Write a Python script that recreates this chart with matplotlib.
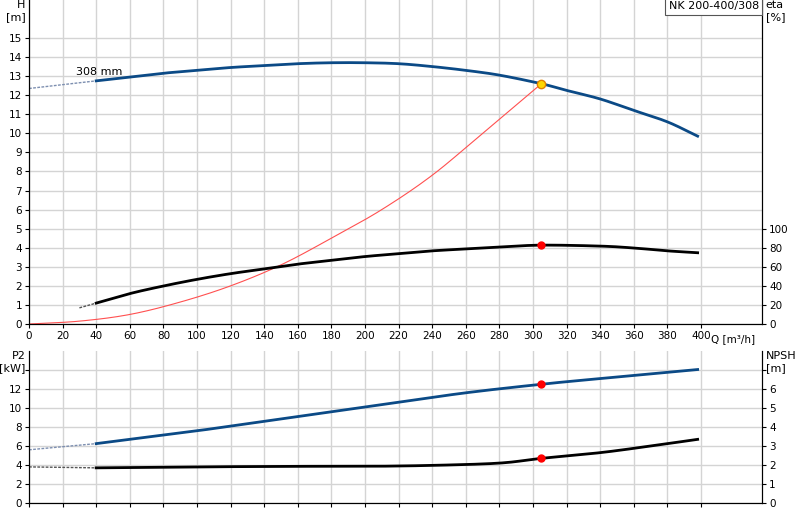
import matplotlib
matplotlib.use("Agg")
import matplotlib.pyplot as plt
import numpy as np

plt.rcParams['font.family'] = ['DejaVu Sans']
plt.rcParams['font.size'] = 7.5

# Head curve (m)
q_h = [40, 60, 80, 100, 120, 140, 160, 180, 200, 220, 240, 260, 280, 305, 320, 340, 360, 380, 398]
h = [12.75, 12.95, 13.15, 13.3, 13.45, 13.55, 13.65, 13.7, 13.7, 13.65, 13.5, 13.3, 13.05, 12.6, 12.25, 11.8, 11.2, 10.6, 9.85]
q_h_ext = [0, 40]
h_ext = [12.35, 12.75]
# Efficiency (%)
q_eta = [40, 60, 80, 100, 120, 140, 160, 180, 200, 220, 240, 260, 280, 305, 340, 360, 380, 398]
eta = [22, 32, 40, 47, 53, 58, 63, 67, 71, 74, 77, 79, 81, 83, 82, 80, 77, 75]
q_eta_ext = [30, 40]
eta_ext = [17, 22]
# System curve (m)
q_sys = [0, 30, 60, 90, 120, 150, 180, 210, 240, 270, 305]
h_sys = [0, 0.15, 0.5, 1.15, 2.0, 3.1, 4.5, 6.0, 7.8, 10.0, 12.6]
# Power P2 (kW)
q_p = [40, 60, 100, 140, 180, 220, 260, 305, 340, 398]
p2 = [6.25, 6.7, 7.6, 8.6, 9.6, 10.6, 11.6, 12.5, 13.1, 14.05]
q_p_ext = [0, 40]
p2_ext = [5.6, 6.25]
# NPSH (m)
q_n = [40, 100, 160, 200, 240, 280, 305, 340, 370, 398]
npsh = [1.85, 1.9, 1.93, 1.93, 1.98, 2.1, 2.35, 2.65, 3.0, 3.35]
q_n_ext = [0, 40]
npsh_ext = [1.9, 1.85]
q_op = 305

BLUE = '#0b4a86'
GRID = '#d4d4d4'

def smooth(x, y, n=200):
    x = np.asarray(x, float); y = np.asarray(y, float)
    xs = np.linspace(x[0], x[-1], n)
    # monotone-ish cubic via piecewise interpolation of a polyfit-free approach
    from numpy import interp
    # Catmull-Rom
    pts = []
    for i in range(len(x) - 1):
        x0 = x[i-1] if i > 0 else 2*x[0]-x[1]; y0 = y[i-1] if i > 0 else 2*y[0]-y[1]
        x3 = x[i+2] if i+2 < len(x) else 2*x[-1]-x[-2]; y3 = y[i+2] if i+2 < len(y) else 2*y[-1]-y[-2]
        t = np.linspace(0, 1, 20, endpoint=(i == len(x)-2))
        for (a, b0, b1, b2, b3) in [(0, x0, x[i], x[i+1], x3), (1, y0, y[i], y[i+1], y3)]:
            v = 0.5*((2*b1) + (-b0+b2)*t + (2*b0-5*b1+4*b2-b3)*t**2 + (-b0+3*b1-3*b2+b3)*t**3)
            if a == 0: xv = v
            else: yv = v
        pts.append((xv, yv))
    return np.concatenate([p[0] for p in pts]), np.concatenate([p[1] for p in pts])

fig = plt.figure(figsize=(8, 5.2), dpi=100)
ax = fig.add_axes([29/800, 1-324/520, 733/800, 324/520])
ax2 = ax.twinx()
axb = fig.add_axes([29/800, 1-503/520, 733/800, 152/520])
axb2 = axb.twinx()

xmax = 733/1.68
for a in (ax, axb):
    a.set_xlim(0, xmax)
    a.set_xticks(np.arange(0, 401, 20))
    a.grid(True, color=GRID, lw=1)
    a.set_axisbelow(True)
    a.spines['top'].set_visible(False)
    a.tick_params(length=3, pad=2)

ax.set_ylim(0, 324/19.07)
ax.set_yticks(np.arange(0, 16, 1))
ax.set_xticklabels([str(v) for v in range(0, 401, 20)])
ax2.set_ylim(0, 324/0.95)
ax2.set_yticks([0, 20, 40, 60, 80, 100])
ax2.spines['top'].set_visible(False)
ax2.tick_params(length=3, pad=2)

axb.set_ylim(0, 16)
axb.set_yticks(np.arange(0, 15, 2))
axb.set_yticklabels(['0', '2', '4', '6', '8', '10', '12', ''])
axb.set_xticklabels([])
axb2.set_ylim(0, 8)
axb2.set_yticks(np.arange(0, 8, 1))
axb2.set_yticklabels(['0', '1', '2', '3', '4', '5', '6', ''])
axb2.spines['top'].set_visible(False)
axb2.tick_params(length=3, pad=2)

# top curves
ax.plot(q_h_ext, h_ext, color='#7d8fb0', lw=1, ls=(0, (2, 1)))
x, y = smooth(q_h, h); ax.plot(x, y, color=BLUE, lw=2)
x, y = smooth(q_sys, h_sys); ax.plot(x, y, color='#ff5050', lw=0.8)
ax.plot([q_op], [np.interp(q_op, q_h, h)], 'o', ms=6, mfc='#ffd700', mec='#e08000', mew=1, zorder=5)
ax2.plot(q_eta_ext, eta_ext, color='#555555', lw=1, ls=(0, (2, 1)))
x, y = smooth(q_eta, eta); ax2.plot(x, y, color='black', lw=2)
ax2.plot([q_op], [np.interp(q_op, q_eta, eta)], 'o', ms=5, color='red', zorder=5)

ax.text(47/1.68, 12.95, '308 mm', fontsize=8, va='bottom')
ax.text(-0.005, 1.0, 'H\n[m]', transform=ax.transAxes, ha='right', va='top', fontsize=8)
ax2.text(1.005, 1.0, 'eta\n[%]', transform=ax2.transAxes, ha='left', va='top', fontsize=8)
ax.text(406, -0.55, 'Q [m³/h]', ha='left', va='top', fontsize=7.5)
ax2.text(0.996, 0.996, 'NK 200-400/308', transform=ax2.transAxes, ha='right', va='top', fontsize=8,
         bbox=dict(boxstyle='square,pad=0.3', fc='white', ec='#555555', lw=0.8), zorder=10)

# bottom curves
axb.plot(q_p_ext, p2_ext, color='#7d8fb0', lw=1, ls=(0, (2, 1)))
x, y = smooth(q_p, p2); axb.plot(x, y, color=BLUE, lw=2)
axb.plot([q_op], [np.interp(q_op, q_p, p2)], 'o', ms=5, color='red', zorder=5)
axb2.plot(q_n_ext, npsh_ext, color='#555555', lw=1, ls=(0, (2, 1)))
x, y = smooth(q_n, npsh); axb2.plot(x, y, color='black', lw=2)
axb2.plot([q_op], [np.interp(q_op, q_n, npsh)], 'o', ms=5, color='red', zorder=5)
axb.text(-0.005, 1.0, 'P2\n[kW]', transform=axb.transAxes, ha='right', va='top', fontsize=8)
axb2.text(1.005, 1.0, 'NPSH\n[m]', transform=axb2.transAxes, ha='left', va='top', fontsize=8)

fig.savefig('out.png', dpi=100)
